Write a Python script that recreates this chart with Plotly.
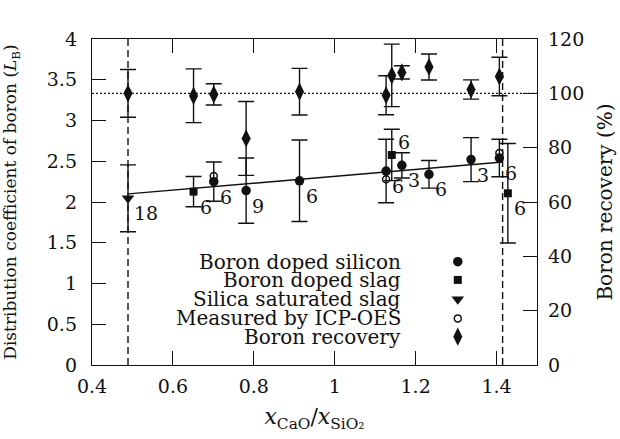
import plotly.graph_objects as go

# ---------------- data ----------------
# Boron doped silicon (filled circles), left axis
si_x = [0.701, 0.781, 0.913, 1.127, 1.166, 1.233, 1.337, 1.407]
si_y = [2.25, 2.14, 2.26, 2.38, 2.45, 2.34, 2.52, 2.54]
si_err = [0.24, 0.40, 0.50, 0.39, 0.155, 0.17, 0.27, 0.23]
si_n = ["6", "9", "6", "6", "3", "6", "3", "6"]

# Boron doped slag (squares)
slag_x = [0.651, 1.141, 1.428]
slag_y = [2.127, 2.577, 2.107]
slag_err = [0.185, 0.315, 0.61]
slag_n = ["6", "6", "6"]

# Silica saturated slag (down triangle)
sat_x = [0.489]
sat_y = [2.045]
sat_err = [0.41]
sat_n = ["18"]

# Measured by ICP-OES (open circles)
icp_x = [0.701, 1.127, 1.407]
icp_y = [2.32, 2.28, 2.60]

# Boron recovery (diamonds), right axis (%)
rec_x = [0.489, 0.651, 0.701, 0.781, 0.913, 1.127, 1.141, 1.166, 1.233, 1.337, 1.407]
rec_y = [100.0, 99.1, 99.6, 83.4, 100.6, 99.3, 106.6, 107.7, 109.7, 101.4, 106.2]
rec_err = [8.8, 9.9, 3.9, 13.6, 8.6, 7.2, 11.5, 2.45, 4.8, 3.55, 7.1]

# Linear trend line
fit_x = [0.49, 1.415]
fit_y = [2.10, 2.49]

# Saturation limits (vertical dashed) and 100 % recovery reference
sat_limits = [0.489, 1.415]
full_recovery = 100

legend_labels = ["Boron doped silicon", "Boron doped slag", "Silica saturated slag",
                 "Measured by ICP-OES", "Boron recovery"]

# ---------------- styling ----------------
FONT = "DejaVu Serif"
FS = 20
FS_TICK = 19
BLACK = "#111111"

fig = go.Figure()
eb = dict(type="data", color=BLACK, thickness=1.4, width=8, visible=True)

fig.add_trace(go.Scatter(x=fit_x, y=fit_y, mode="lines",
                         line=dict(color=BLACK, width=1.4), showlegend=False))
fig.add_trace(go.Scatter(x=rec_x, y=rec_y, yaxis="y2", mode="markers",
                         marker=dict(symbol="diamond-tall", size=13, color=BLACK),
                         error_y=dict(array=rec_err, **eb), showlegend=False))
fig.add_trace(go.Scatter(x=si_x, y=si_y, mode="markers",
                         marker=dict(symbol="circle", size=9.5, color=BLACK),
                         error_y=dict(array=si_err, **eb), showlegend=False))
fig.add_trace(go.Scatter(x=slag_x, y=slag_y, mode="markers",
                         marker=dict(symbol="square", size=8, color=BLACK),
                         error_y=dict(array=slag_err, **eb), showlegend=False))
fig.add_trace(go.Scatter(x=sat_x, y=sat_y, mode="markers",
                         marker=dict(symbol="triangle-down", size=11, color=BLACK),
                         error_y=dict(array=sat_err, **eb), showlegend=False))
fig.add_trace(go.Scatter(x=icp_x, y=icp_y, mode="markers",
                         marker=dict(symbol="circle-open", size=7, color=BLACK,
                                     line=dict(width=1.5, color=BLACK)),
                         showlegend=False))

# sample-count labels next to points
def add_labels(xs, ys, labels, yshift=-15):
    for x, y, t in zip(xs, ys, labels):
        fig.add_annotation(x=x, y=y, xref="x", yref="y", text=t, showarrow=False,
                           xanchor="left", yanchor="middle", xshift=4, yshift=yshift,
                           font=dict(family=FONT, size=FS_TICK, color=BLACK))

add_labels(si_x, si_y, si_n)
add_labels(sat_x, sat_y, sat_n)
add_labels([slag_x[0], slag_x[2]], [slag_y[0], slag_y[2]], [slag_n[0], slag_n[2]])
add_labels([slag_x[1]], [slag_y[1]], [slag_n[1]], yshift=13)

# reference lines
for xv in sat_limits:
    fig.add_shape(type="line", x0=xv, x1=xv, y0=0, y1=1, xref="x", yref="paper",
                  line=dict(color=BLACK, width=1.4, dash="7px,4px"))
fig.add_shape(type="line", x0=0, x1=1, y0=full_recovery, y1=full_recovery,
              xref="paper", yref="y2", line=dict(color=BLACK, width=1.1, dash="2px,2px"))

# custom legend: right-aligned text, marker on the right
leg_y = [0.317, 0.261, 0.202, 0.143, 0.087]
leg_sym = [dict(symbol="circle", size=9.5, color=BLACK),
           dict(symbol="square", size=8, color=BLACK),
           dict(symbol="triangle-down", size=11, color=BLACK),
           dict(symbol="circle-open", size=7, color=BLACK, line=dict(width=1.5, color=BLACK)),
           dict(symbol="diamond-tall", size=13, color=BLACK)]
for lab, yy, sym in zip(legend_labels, leg_y, leg_sym):
    fig.add_annotation(x=0.699, y=yy, xref="paper", yref="paper", text=lab,
                       showarrow=False, xanchor="right", yanchor="middle",
                       font=dict(family=FONT, size=FS, color=BLACK))
    fig.add_trace(go.Scatter(x=[0.822], y=[yy], xaxis="x3", yaxis="y3", mode="markers",
                             marker=sym, showlegend=False, hoverinfo="skip"))

axis_common = dict(showline=True, linecolor=BLACK, linewidth=1.4, ticks="inside",
                   ticklen=14, tickwidth=1.4, tickcolor=BLACK, showgrid=False,
                   zeroline=False, tickfont=dict(family=FONT, size=FS_TICK, color=BLACK))

fig.update_layout(
    width=620, height=439,
    margin=dict(l=92, r=83, t=39, b=74, autoexpand=False),
    paper_bgcolor="white", plot_bgcolor="white",
    showlegend=False,
    font=dict(family=FONT, size=FS, color=BLACK),
    xaxis=dict(range=[0.4, 1.5], tickvals=[0.4, 0.6, 0.8, 1.0, 1.2, 1.4],
               ticktext=["0.4", "0.6", "0.8", "1", "1.2", "1.4"], mirror="ticks",
               title=dict(text="<i>x</i><sub>CaO</sub>/<i>x</i><sub>SiO₂</sub>",
                          font=dict(family=FONT, size=22, color=BLACK), standoff=12),
               ticklabelstandoff=4, **axis_common),
    yaxis=dict(range=[0, 4], tickvals=[0, 0.5, 1, 1.5, 2, 2.5, 3, 3.5, 4],
               ticktext=["0", "0.5", "1", "1.5", "2", "2.5", "3", "3.5", "4"],
               title=dict(text="Distribution coefficient of boron (<i>L</i><sub>B</sub>)",
                          font=dict(family=FONT, size=17, color=BLACK), standoff=27),
               ticklabelstandoff=10, **axis_common),
    yaxis2=dict(range=[0, 120], tickvals=[0, 20, 40, 60, 80, 100, 120],
                overlaying="y", side="right",
                title=dict(text="Boron recovery (%)",
                           font=dict(family=FONT, size=FS, color=BLACK), standoff=14),
                ticklabelstandoff=6, **axis_common),
    xaxis3=dict(range=[0, 1], overlaying="x", visible=False, fixedrange=True),
    yaxis3=dict(range=[0, 1], overlaying="y", visible=False, fixedrange=True),
)

fig.write_html("out.html")
